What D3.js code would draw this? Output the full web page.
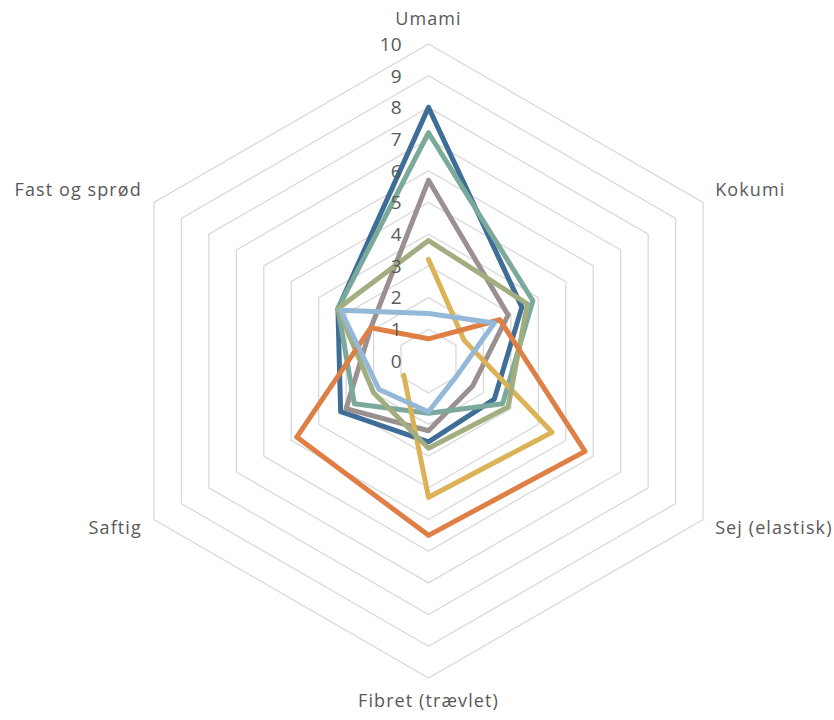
<!DOCTYPE html>
<html>
<head>
<meta charset="utf-8">
<script src="https://cdn.jsdelivr.net/npm/d3@7"></script>
<style>
  html, body { margin: 0; padding: 0; background: #ffffff; }
  svg text { font-family: "Open Sans", "Lato", sans-serif; fill: #595959; }
</style>
</head>
<body>
<svg id="chart" width="834" height="720"></svg>
<script>
// ---- data ----
const categories = ["Umami", "Kokumi", "Sej (elastisk)", "Fibret (trævlet)", "Saftig", "Fast og sprød"];
const tickValues = [0, 1, 2, 3, 4, 5, 6, 7, 8, 9, 10];
const seriesNames = ["Serie 1", "Serie 2", "Serie 3", "Serie 4", "Serie 5", "Serie 6", "Serie 7"];
const series1 = [1.5, 2.4, 1.0, 1.6, 1.8, 3.2];
const series2 = [0.7, 2.6, 5.7, 5.5, 4.8, 2.1];
const series3 = [3.8, 3.6, 2.9, 2.75, 2.0, 3.3];
const series4 = [3.2, 1.3, 4.5, 4.3, 0.9, null];
const series5 = [7.2, 3.8, 2.7, 1.65, 2.7, 3.3];
const series6 = [5.7, 2.9, 1.6, 2.2, 3.0, 2.1];
const series7 = [8.0, 3.4, 2.4, 2.55, 3.2, 3.3];
const seriesColors = ["#94B8D7", "#E07F45", "#A2AE80", "#DCB256", "#7BAA9C", "#9A908F", "#3E6E97"];

// ---- layout ----
const cx = 428.5, cy = 361, R = 317;
const svg = d3.select("#chart");
const rScale = d3.scaleLinear().domain([0, 10]).range([0, R]);
const angle = d3.scaleLinear().domain([0, categories.length]).range([0, 2 * Math.PI]);
const pt = (i, v) => [cx + rScale(v) * Math.sin(angle(i)), cy - rScale(v) * Math.cos(angle(i))];

// grid rings
const ringLine = d3.line();
svg.append("g").selectAll("path")
  .data(tickValues.filter(t => t > 0))
  .join("path")
  .attr("d", t => ringLine(categories.map((c, i) => pt(i, t))) + "Z")
  .attr("fill", "none")
  .attr("stroke", "#D9D9D9")
  .attr("stroke-width", 1.3);

// series lines (first series drawn last / on top)
const allSeries = [series1, series2, series3, series4, series5, series6, series7];
const lineGen = d3.line()
  .defined(d => d.v !== null && d.v !== undefined)
  .x(d => pt(d.i, d.v)[0])
  .y(d => pt(d.i, d.v)[1]);

const gSeries = svg.append("g");
allSeries.map((vals, k) => ({ vals, k })).reverse().forEach(({ vals, k }) => {
  const pts = vals.map((v, i) => ({ i, v }));
  pts.push({ i: vals.length, v: vals[0] });
  gSeries.append("path")
    .attr("d", lineGen(pts))
    .attr("fill", "none")
    .attr("stroke", seriesColors[k])
    .attr("stroke-width", 5)
    .attr("stroke-linejoin", "round")
    .attr("stroke-linecap", "round");
});

// tick labels on Umami axis
svg.append("g").selectAll("text")
  .data(tickValues)
  .join("text")
  .attr("x", cx - 27)
  .attr("y", t => cy - rScale(t))
  .attr("dy", "0.36em")
  .attr("text-anchor", "end")
  .attr("font-size", 19)
  .text(t => t);

// category labels
const labelG = svg.append("g");
categories.forEach((c, i) => {
  const a = angle(i);
  const sx = Math.sin(a), sy = -Math.cos(a);
  let x, y, anchor;
  if (Math.abs(sx) < 0.01) {
    x = cx;
    anchor = "middle";
    y = sy < 0 ? cy - R - 19 : cy + R + 29;
  } else {
    const rr = R + 14;
    x = cx + rr * sx;
    y = cy + rr * sy + (sy < 0 ? -7 : 0) + 7;
    anchor = sx > 0 ? "start" : "end";
  }
  labelG.append("text")
    .attr("x", x)
    .attr("y", y)
    .attr("text-anchor", anchor)
    .attr("font-size", 18)
    .attr("letter-spacing", 1.1)
    .text(c);
});
</script>
</body>
</html>
